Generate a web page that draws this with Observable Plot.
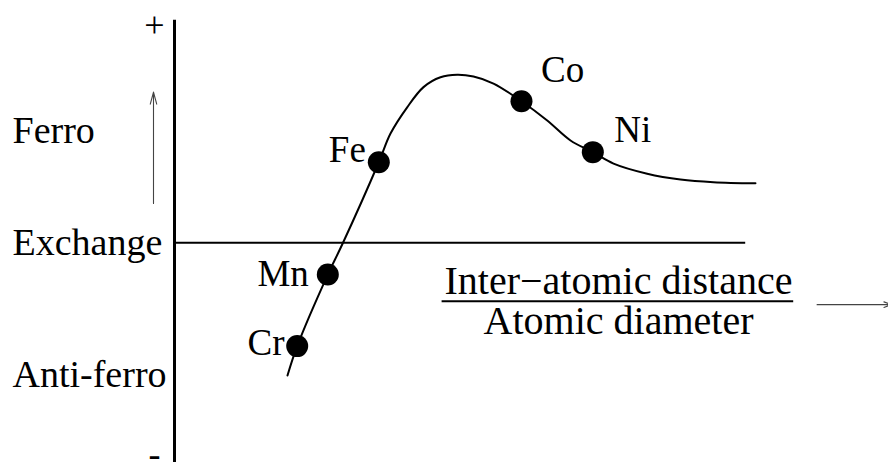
<!DOCTYPE html>
<html>
<head>
<meta charset="utf-8">
<script src="https://cdn.jsdelivr.net/npm/d3@7"></script>
<script src="https://cdn.jsdelivr.net/npm/@observablehq/plot@0.6"></script>
<style>
  html, body { margin: 0; padding: 0; background: #fff; }
  #chart { width: 888px; height: 462px; overflow: hidden; }
  #chart svg, #chart svg text { font-family: "Liberation Serif", "DejaVu Serif", serif !important; }
</style>
</head>
<body>
<div id="chart"></div>
<script>
// Bethe–Slater curve: exchange vs (inter-atomic distance / atomic diameter)
const curveX = [1.883, 2.045, 2.555, 2.795, 3.405, 3.6, 3.878, 4.15, 4.433, 4.712, 4.983, 5.317, 5.783, 6.212, 6.6, 6.972, 7.317, 7.878, 8.433, 8.983, 9.683];
const curveY = [-5.92, -4.61, -1.42, -0.08, 3.59, 4.87, 6.04, 6.94, 7.38, 7.49, 7.41, 7.10, 6.31, 5.45, 4.56, 4.04, 3.53, 3.08, 2.82, 2.70, 2.65];

const elements = ["Cr", "Mn", "Fe", "Co", "Ni"];
const elemX = [2.045, 2.555, 3.405, 5.783, 6.972];
const elemY = [-4.61, -1.42, 3.59, 6.31, 4.04];

const sideLabels = ["Ferro", "Exchange", "Anti-ferro"];
const sideLabelY = [5.0, 0, -5.87];
const signs = ["+", "-"];
const signY = [9.7, -9.45];

const numerator = "Inter\u2212atomic distance";
const denominator = "Atomic diameter";

const curve = curveX.map((x, i) => ({x, y: curveY[i]}));
const pts = elements.map((name, i) => ({name, x: elemX[i], y: elemY[i]}));
const sides = sideLabels.map((t, i) => ({t, y: sideLabelY[i]}));
const sg = signs.map((t, i) => ({t, y: signY[i]}));

// label offsets (style, not data)
const off = {
  Cr: {dx: -12.7, dy: -2.8, anchor: "end"},
  Mn: {dx: -19, dy: -0.8, anchor: "end"},
  Fe: {dx: -13, dy: -11.8, anchor: "end"},
  Co: {dx: 19.5, dy: -30.8, anchor: "start"},
  Ni: {dx: 21.5, dy: -21.8, anchor: "start"}
};

const font = "'Liberation Serif', 'DejaVu Serif', serif";

const labelMarks = elements.map(n => {
  const o = off[n];
  return Plot.text(pts.filter(p => p.name === n), {
    x: "x", y: "y", text: "name", textAnchor: o.anchor,
    dx: o.dx, dy: o.dy, fontSize: 37, fill: "black", fontFamily: font
  });
});

const chart = Plot.plot({
  width: 888,
  height: 462,
  marginLeft: 174,
  marginRight: 114,
  marginTop: 18,
  marginBottom: 0,
  x: {domain: [0, 10], axis: null},
  y: {domain: [-9.8, 10], axis: null},
  style: {fontFamily: font, background: "white", overflow: "visible"},
  marks: [
    Plot.ruleY([0], {x1: 0, x2: 9.52, stroke: "black", strokeWidth: 2}),
    Plot.ruleX([0], {y1: -12, y2: 9.92, stroke: "black", strokeWidth: 3}),
    Plot.line(curve, {x: "x", y: "y", curve: "catmull-rom", stroke: "black", strokeWidth: 2}),
    ...labelMarks,
    Plot.dot(pts, {x: "x", y: "y", r: 11, fill: "black", stroke: "none"}),
    Plot.text(sides, {frameAnchor: "left", y: "y", text: "t", textAnchor: "start", dx: -162, fontSize: 38, fill: "black", fontFamily: font}),
    Plot.text(sg, {frameAnchor: "left", y: "y", text: "t", textAnchor: "middle", dx: -20, fontSize: 36, fill: "black", fontFamily: font, fontWeight: (d) => d.t === "-" ? "bold" : "normal"}),
    Plot.arrow([{x1: -0.35, y1: 1.75, x2: -0.35, y2: 6.72}], {
      x1: "x1", y1: "y1", x2: "x2", y2: "y2", stroke: "#444", strokeWidth: 1.1,
      headLength: 17, headAngle: 30
    }),
    Plot.text([numerator], {x: 7.4, y: -1.71, text: d => d, fontSize: 40, fill: "black", textAnchor: "middle", fontFamily: font}),
    Plot.ruleY([-2.61], {x1: 4.46, x2: 10.32, stroke: "black", strokeWidth: 2}),
    Plot.text([denominator], {x: 7.4, y: -3.49, text: d => d, fontSize: 40, fill: "black", textAnchor: "middle", fontFamily: font}),
    Plot.arrow([{x1: 10.71, y1: -2.76, x2: 11.95, y2: -2.76}], {
      x1: "x1", y1: "y1", x2: "x2", y2: "y2", stroke: "#444", strokeWidth: 1.1,
      headLength: 11, headAngle: 40
    })
  ]
});

document.getElementById("chart").appendChild(chart);
</script>
</body>
</html>
